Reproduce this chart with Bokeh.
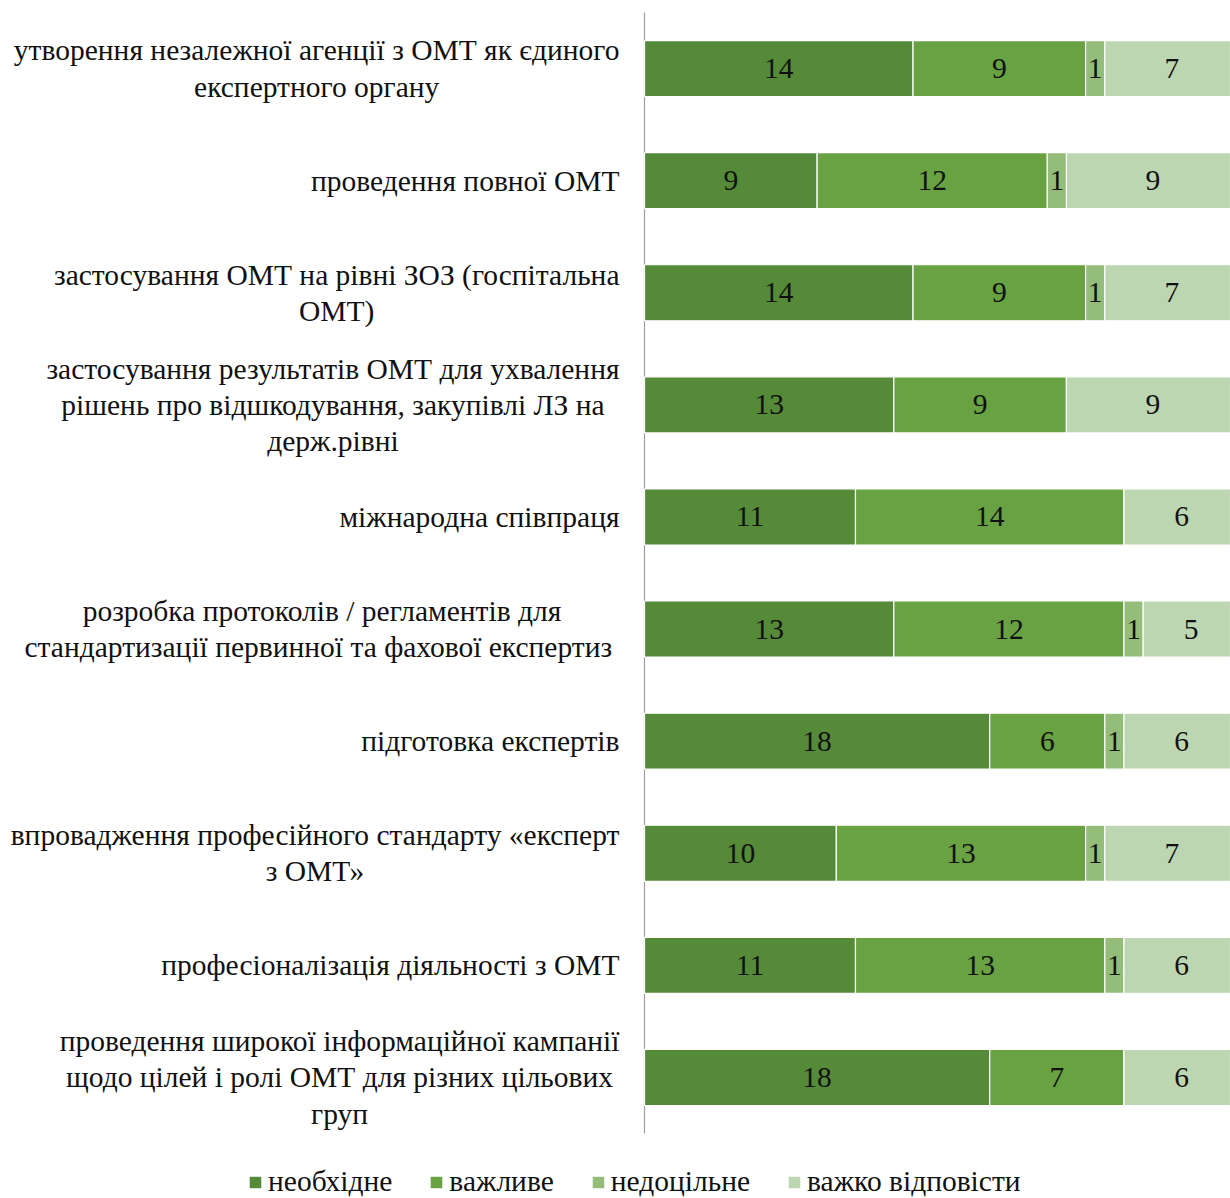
import numpy as np
from bokeh.plotting import figure
from bokeh.models import ColumnDataSource, Range1d, Legend, LegendItem
from bokeh.core.properties import value
from bokeh.embed import file_html
from bokeh.resources import INLINE

# ---- data -------------------------------------------------------------
categories = [
    "утворення незалежної агенції з ОМТ як єдиного\nекспертного органу",
    "проведення повної ОМТ",
    "застосування ОМТ на рівні ЗОЗ (госпітальна\nОМТ)",
    "застосування результатів ОМТ для ухвалення\nрішень про відшкодування, закупівлі ЛЗ на\nдерж.рівні",
    "міжнародна співпраця",
    "розробка протоколів / регламентів для\nстандартизації  первинної та фахової експертиз",
    "підготовка експертів",
    "впровадження професійного стандарту «експерт\nз ОМТ»",
    "професіоналізація діяльності з ОМТ",
    "проведення широкої інформаційної кампанії\nщодо цілей і ролі ОМТ для різних цільових\nгруп",
]
necessary = [14, 9, 14, 13, 11, 13, 18, 10, 11, 18]
important = [9, 12, 9, 9, 14, 12, 6, 13, 13, 7]
inexpedient = [1, 1, 1, 0, 0, 1, 1, 1, 1, 0]
hard_to_say = [7, 9, 7, 9, 6, 5, 6, 7, 6, 6]
series_names = ["необхідне", "важливе", "недоцільне", "важко відповісти"]
series_colors = ["#558A38", "#68A242", "#93BD79", "#BDD6B2"]

# ---- layout -----------------------------------------------------------
W, H = 1230, 1198
AXIS_PX = 644          # horizontal pixel of the value axis
PX_PER_UNIT = 19.18
ROW_PX = 112.1
TOP_PX = 12
LABEL_RIGHT_PX = 619
FONT = "Liberation Serif"
FONT_PX = 29.5

x_range = Range1d(-AXIS_PX / PX_PER_UNIT, (W - AXIS_PX) / PX_PER_UNIT)
y_range = Range1d((H - TOP_PX) / ROW_PX, -TOP_PX / ROW_PX)

p = figure(width=W, height=H, x_range=x_range, y_range=y_range,
           output_backend="svg", toolbar_location=None,
           x_axis_location=None, y_axis_location=None,
           min_border=0)
p.grid.visible = False
p.outline_line_color = None
p.background_fill_color = "white"

n = len(categories)
rows = np.arange(n) + 0.5

# value axis line
p.segment(x0=[0], y0=[0], x1=[0], y1=[n], line_color="#9E9E9E", line_width=1.2)

left = np.zeros(n)
legend_items = []
for name, vals, col in zip(series_names,
                           [necessary, important, inexpedient, hard_to_say],
                           series_colors):
    vals = np.array(vals, dtype=float)
    src = ColumnDataSource(dict(
        y=rows, left=left, right=left + vals, mid=left + vals / 2,
        lab=[str(int(v)) if v else "" for v in vals],
    ))
    r = p.hbar(y="y", left="left", right="right", height=0.5, source=src,
               fill_color=col, line_color="white", line_width=1.2)
    legend_items.append(LegendItem(label=name, renderers=[r]))
    p.text(x="mid", y="y", text="lab", source=src,
           text_align="center", text_baseline="middle",
           text_font=value(FONT), text_font_size=f"{FONT_PX}px",
           text_color="#111111")
    left = left + vals

# category labels: centred lines, block right-aligned next to the axis
try:
    from PIL import ImageFont
    _font = ImageFont.truetype("LiberationSerif-Regular.ttf", int(round(FONT_PX)))

    def text_width(s):
        return _font.getlength(s) * FONT_PX / int(round(FONT_PX))
except Exception:
    def text_width(s):
        return 0.46 * FONT_PX * len(s)

right_data = (LABEL_RIGHT_PX - AXIS_PX) / PX_PER_UNIT
centers = [right_data - max(text_width(l) for l in c.split("\n")) / 2 / PX_PER_UNIT
           for c in categories]
p.text(x=centers, y=rows, text=categories,
       text_align="center", text_baseline="middle", text_line_height=1.13,
       text_font=value(FONT), text_font_size=f"{FONT_PX}px",
       text_color="#111111")

legend = Legend(
    items=legend_items,
    orientation="horizontal", location=(247, 0),
    glyph_width=16, glyph_height=16, label_standoff=5, spacing=36,
    padding=0, margin=0, border_line_color=None, background_fill_alpha=0,
    label_text_font=FONT, label_text_font_size=f"{FONT_PX}px",
    label_text_color="#111111",
)
p.add_layout(legend)

open("out.html", "w").write(file_html(p, INLINE))
